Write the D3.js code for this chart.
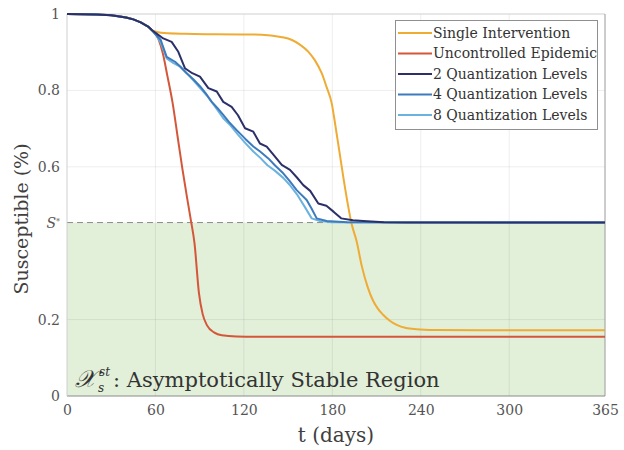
<!DOCTYPE html>
<html>
<head>
<meta charset="utf-8">
<script src="https://cdn.jsdelivr.net/npm/d3@7"></script>
<style>
  html, body { margin: 0; padding: 0; background: #fff; }
  svg { display: block; }
  svg text { font-family: "DejaVu Serif", "Liberation Serif", "Times New Roman", Tinos, "Noto Serif", serif; }
</style>
</head>
<body>
<svg id="chart" width="624" height="450"></svg>
<script>
// Susceptible fraction over one year for different control strategies
const sStar = 0.454;

const xTicks = [0, 60, 120, 180, 240, 300, 365];
const yTicks = [0, 0.2, sStar, 0.6, 0.8, 1];
const yTickLabels = ["0", "0.2", "S*", "0.6", "0.8", "1"];

// shared start of every trajectory (before any control acts)
const tStart = [0, 20, 30, 40, 45, 50, 55, 57.5];
const sStart = [1.0, 0.999, 0.997, 0.991, 0.986, 0.978, 0.967, 0.958];

const tUncontrolled = [62, 65, 68, 71.7, 75, 78.4, 81, 84, 86.5, 89.5, 92, 95, 100, 105, 115, 140, 365];
const sUncontrolled = [0.935, 0.897, 0.84, 0.766, 0.68, 0.592, 0.53, 0.461, 0.40, 0.27, 0.215, 0.185, 0.166, 0.159, 0.156, 0.155, 0.155];

const tSingle = [62, 66, 80, 100, 132, 145, 152.6, 158, 163.8, 168, 172.8, 176, 179.6, 182, 185, 188, 190.8, 193, 196.5, 200, 204, 207.6, 211, 214.6, 219, 223.7, 230, 237, 250, 280, 365];
const sSingle = [0.952, 0.95, 0.948, 0.947, 0.946, 0.94, 0.932, 0.92, 0.901, 0.88, 0.845, 0.81, 0.766, 0.71, 0.635, 0.56, 0.496, 0.452, 0.405, 0.34, 0.285, 0.25, 0.228, 0.212, 0.197, 0.186, 0.178, 0.175, 0.173, 0.172, 0.172];

const tQ2 = [61, 65.3, 71, 75.5, 80, 85, 90.2, 95.9, 101.6, 106, 111.7, 116, 120.8, 126.4, 130.9, 135.5, 140, 145.7, 151.3, 156, 160.3, 165, 170.5, 176, 181, 186, 194, 201, 215, 230, 365];
const sQ2 = [0.948, 0.936, 0.927, 0.901, 0.858, 0.845, 0.836, 0.806, 0.797, 0.770, 0.757, 0.735, 0.701, 0.692, 0.661, 0.653, 0.632, 0.605, 0.592, 0.572, 0.552, 0.537, 0.504, 0.498, 0.482, 0.465, 0.460, 0.458, 0.455, 0.454, 0.454];

const tQ4 = [60.5, 63.6, 67.6, 73.3, 77, 81.2, 86, 90.2, 94, 98.2, 102, 106, 110, 115.1, 121, 126.4, 131, 136.6, 141, 146.7, 151, 155.8, 162.6, 166, 169.4, 176.2, 190, 365];
const sQ4 = [0.945, 0.932, 0.888, 0.875, 0.862, 0.845, 0.828, 0.811, 0.793, 0.770, 0.754, 0.736, 0.717, 0.696, 0.673, 0.653, 0.640, 0.622, 0.604, 0.583, 0.563, 0.539, 0.513, 0.490, 0.465, 0.458, 0.455, 0.454];

const tQ8 = [60.5, 63.6, 67.6, 72, 76.7, 83, 90.2, 95, 100, 106, 111, 116, 121, 126.4, 131, 136, 141, 146.7, 151, 156, 161, 166, 171.6, 180, 365];
const sQ8 = [0.945, 0.925, 0.884, 0.872, 0.862, 0.838, 0.807, 0.786, 0.760, 0.727, 0.708, 0.684, 0.662, 0.640, 0.624, 0.604, 0.590, 0.571, 0.553, 0.528, 0.497, 0.465, 0.458, 0.455, 0.454];

const seriesNames = ["Single Intervention", "Uncontrolled Epidemic", "2 Quantization Levels", "4 Quantization Levels", "8 Quantization Levels"];
const seriesColors = ["#eeac34", "#d4573a", "#2c3068", "#3d7bbd", "#6cb2de"];

const zip = (ts, ss) => ts.map((t, i) => ({ t, s: ss[i] }));
const withStart = (ts, ss) => zip(tStart, sStart).concat(zip(ts, ss));

const series = [
  { name: seriesNames[0], color: seriesColors[0], smooth: true,  data: withStart(tSingle, sSingle) },
  { name: seriesNames[1], color: seriesColors[1], smooth: true,  data: withStart(tUncontrolled, sUncontrolled) },
  { name: seriesNames[2], color: seriesColors[2], smooth: false, data: withStart(tQ2, sQ2) },
  { name: seriesNames[3], color: seriesColors[3], smooth: false, data: withStart(tQ4, sQ4) },
  { name: seriesNames[4], color: seriesColors[4], smooth: false, data: withStart(tQ8, sQ8) }
];

const svg = d3.select("#chart");
const plotLeft = 67, plotRight = 605, plotTop = 14, plotBottom = 396;

const x = d3.scaleLinear().domain([0, 365]).range([plotLeft, plotRight]);
const y = d3.scaleLinear().domain([0, 1]).range([plotBottom, plotTop]);

// stable region below S*
svg.append("rect")
  .attr("x", x(0)).attr("y", y(sStar))
  .attr("width", x(365) - x(0)).attr("height", y(0) - y(sStar))
  .attr("fill", "#e2efd9");

// grid
const grid = svg.append("g").attr("stroke", "#000").attr("stroke-opacity", 0.07).attr("stroke-width", 1);
xTicks.slice(1, -1).forEach(t => {
  grid.append("line").attr("x1", x(t)).attr("x2", x(t)).attr("y1", y(0)).attr("y2", y(1));
});
[0.2, 0.6, 0.8].forEach(v => {
  grid.append("line").attr("x1", x(0)).attr("x2", x(365)).attr("y1", y(v)).attr("y2", y(v));
});

// S* threshold
svg.append("line")
  .attr("x1", x(0)).attr("x2", x(365)).attr("y1", y(sStar)).attr("y2", y(sStar))
  .attr("stroke", "#8a8a8a").attr("stroke-width", 1).attr("stroke-dasharray", "6,4");

// frame
svg.append("line").attr("x1", x(0)).attr("x2", x(365)).attr("y1", y(1)).attr("y2", y(1))
  .attr("stroke", "#cfcfcf");
svg.append("line").attr("x1", x(365)).attr("x2", x(365)).attr("y1", y(1)).attr("y2", y(0))
  .attr("stroke", "#9a9a9a");
svg.append("line").attr("x1", x(0)).attr("x2", x(365)).attr("y1", y(0)).attr("y2", y(0))
  .attr("stroke", "#8a8a8a");
svg.append("line").attr("x1", x(0)).attr("x2", x(0)).attr("y1", y(1)).attr("y2", y(0))
  .attr("stroke", "#cfcfcf");

// curves
const smoothLine = d3.line().x(d => x(d.t)).y(d => y(d.s)).curve(d3.curveMonotoneX);
const stepLine = d3.line().x(d => x(d.t)).y(d => y(d.s));
const drawOrder = [1, 0, 4, 3, 2];
drawOrder.forEach(i => {
  const sr = series[i];
  svg.append("path")
    .attr("d", (sr.smooth ? smoothLine : stepLine)(sr.data))
    .attr("fill", "none")
    .attr("stroke", sr.color)
    .attr("stroke-width", 2)
    .attr("stroke-linejoin", "round");
});

// axes
const xAxis = svg.append("g").attr("transform", `translate(0,${plotBottom})`)
  .call(d3.axisBottom(x).tickValues(xTicks).tickSize(0).tickPadding(8).tickFormat(d3.format("d")));
const yAxis = svg.append("g").attr("transform", `translate(${plotLeft},0)`)
  .call(d3.axisLeft(y).tickValues(yTicks).tickSize(0).tickPadding(7)
    .tickFormat((d, i) => yTickLabels[i]));
[xAxis, yAxis].forEach(a => {
  a.attr("font-family", null);
  a.select(".domain").remove();
  a.selectAll("text").attr("font-size", 14).attr("fill", "#555");
});
xAxis.selectAll("text").attr("dy", "0.75em");

// S* label in italic with superscript
yAxis.selectAll(".tick").filter(d => d === sStar).select("text")
  .text(null)
  .call(t => {
    t.append("tspan").attr("font-style", "italic").text("S");
    t.append("tspan").attr("font-size", 8).attr("dy", "-0.5em").text("*");
  });

// axis titles
svg.append("text")
  .attr("x", (plotLeft + plotRight) / 2).attr("y", 442)
  .attr("text-anchor", "middle").attr("font-size", 20).attr("fill", "#404040")
  .text("t (days)");
svg.append("text")
  .attr("transform", `translate(28,${(plotTop + plotBottom) / 2 + 14}) rotate(-90)`)
  .attr("text-anchor", "middle").attr("font-size", 19).attr("fill", "#404040")
  .text("Susceptible (%)");

// region label: script X with st superscript and s subscript
const regY = 387;
svg.append("text").attr("x", 75).attr("y", regY).attr("font-size", 24)
  .attr("font-style", "italic").attr("fill", "#333").text("𝒳");
svg.append("text").attr("x", 99).attr("y", regY - 11).attr("font-size", 12)
  .attr("font-style", "italic").attr("fill", "#333").text("st");
svg.append("text").attr("x", 98).attr("y", regY + 5).attr("font-size", 12)
  .attr("font-style", "italic").attr("fill", "#333").text("s");
svg.append("text").attr("x", 113).attr("y", regY).attr("font-size", 21)
  .attr("fill", "#333").text(": Asymptotically Stable Region");

// legend
const lg = svg.append("g");
lg.append("rect")
  .attr("x", 395.5).attr("y", 20.5).attr("width", 202).attr("height", 109)
  .attr("fill", "#fff").attr("stroke", "#8f8f8f").attr("stroke-width", 1);
series.forEach((sr, i) => {
  const cy = 33 + i * 20.5;
  lg.append("line").attr("x1", 398).attr("x2", 432).attr("y1", cy).attr("y2", cy)
    .attr("stroke", sr.color).attr("stroke-width", 2);
  lg.append("text").attr("x", 433).attr("y", cy).attr("dy", "0.35em")
    .attr("font-size", 14).attr("fill", "#333").text(sr.name);
});
</script>
</body>
</html>
